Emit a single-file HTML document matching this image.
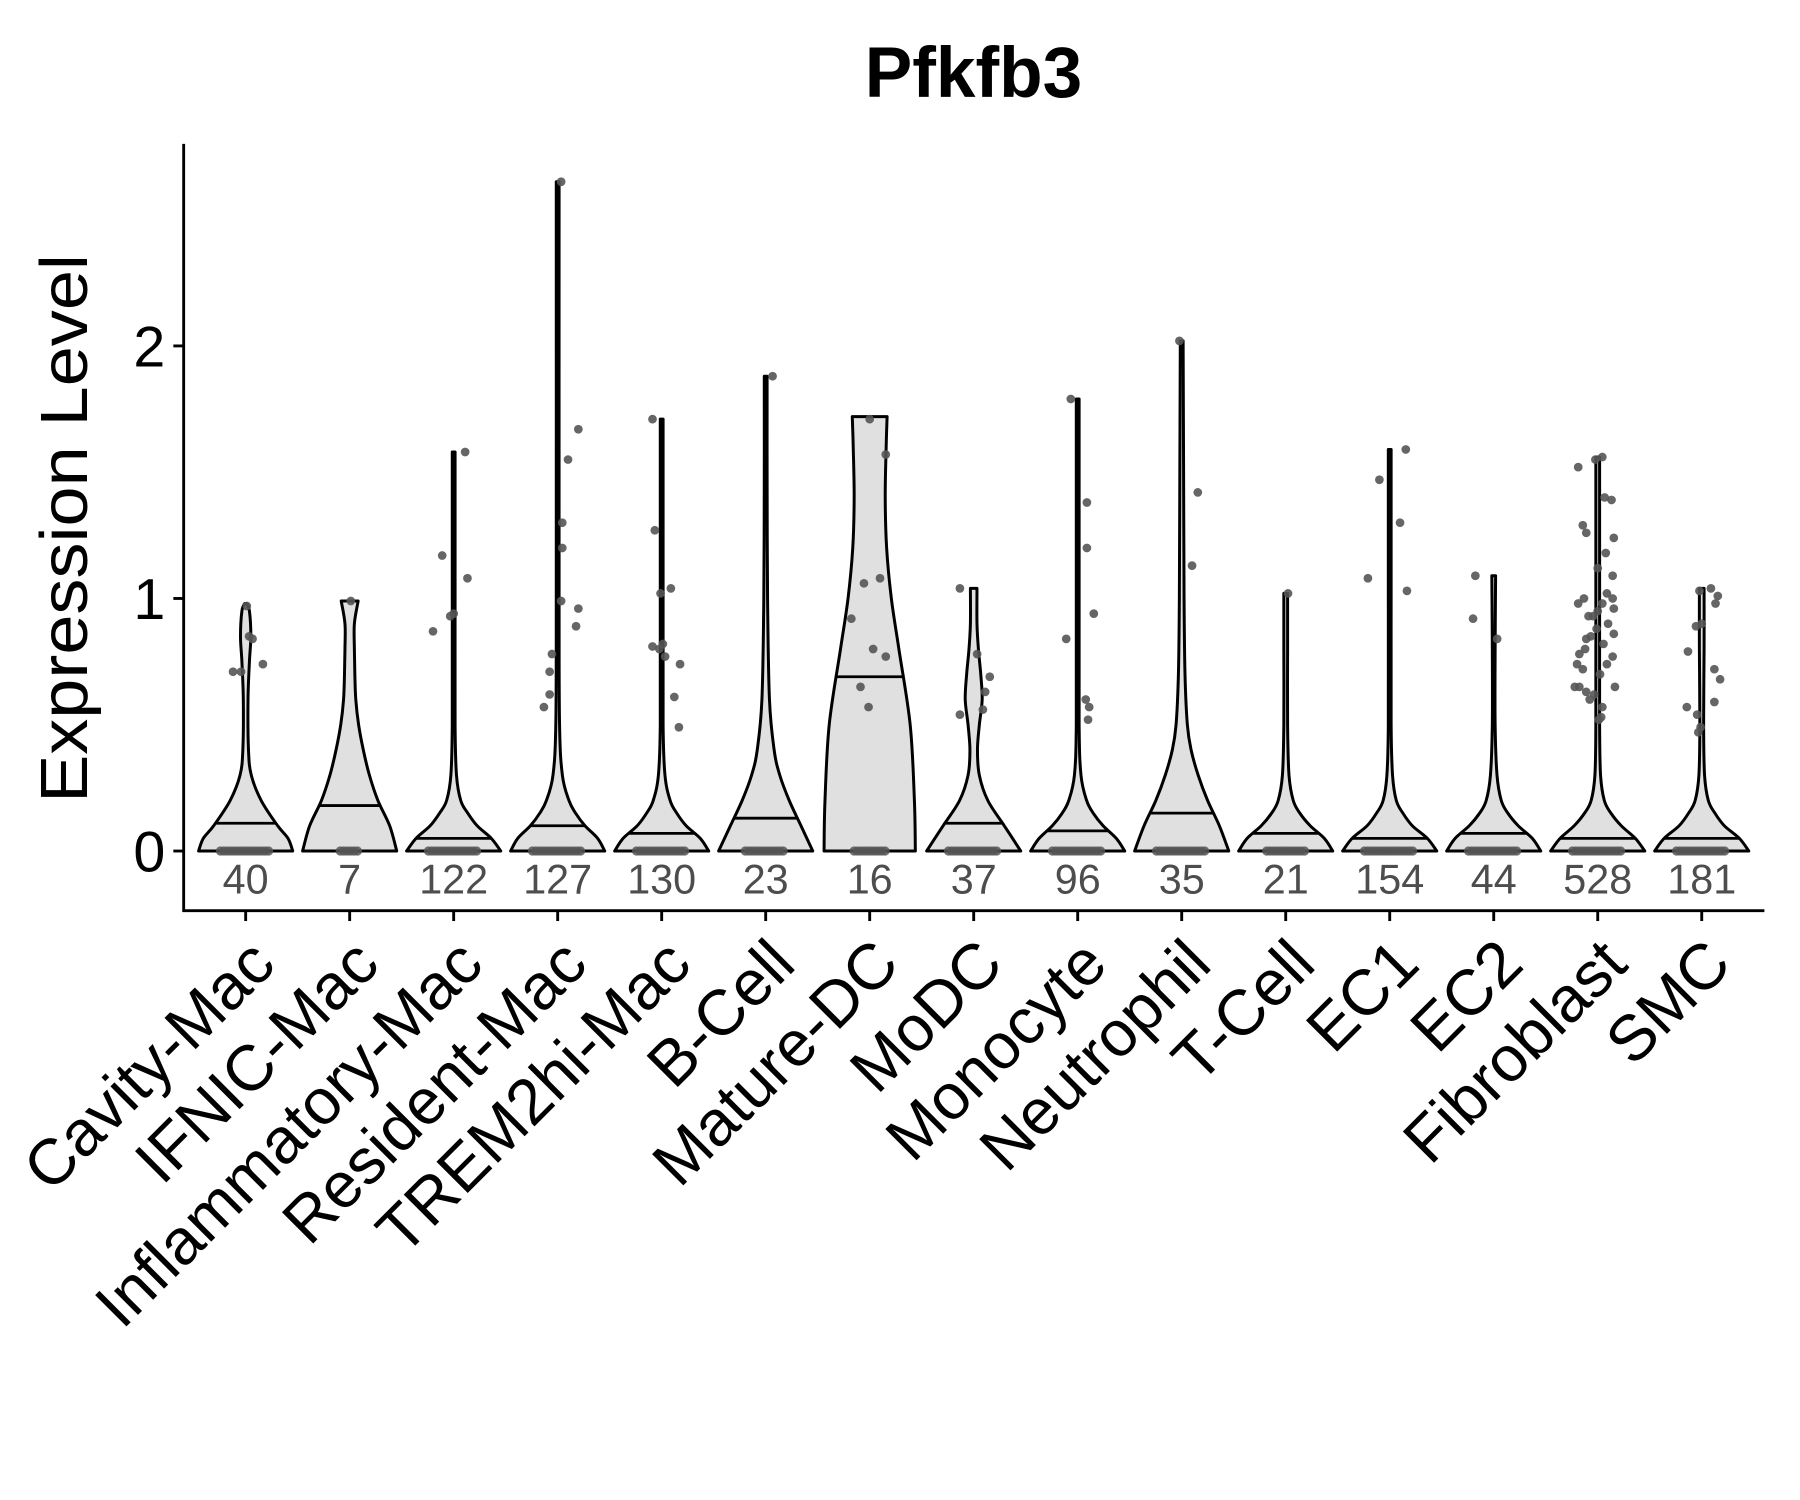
<!DOCTYPE html>
<html><head><meta charset="utf-8"><style>
html,body{margin:0;padding:0;background:#fff;}
svg{display:block;}
</style></head><body>
<svg id="chart" width="1800" height="1500" viewBox="0 0 1568 1306" xmlns="http://www.w3.org/2000/svg" font-family="'Liberation Sans', sans-serif">
<rect width="1568" height="1306" fill="#fff"/>
<text x="848" y="84" text-anchor="middle" font-size="62" font-weight="bold">Pfkfb3</text>
<text transform="translate(76,460) rotate(-90)" text-anchor="middle" font-size="58" textLength="478" lengthAdjust="spacingAndGlyphs">Expression Level</text>
<g id="plot"></g>
</svg>
<script>
const categories = ["Cavity-Mac","IFNIC-Mac","Inflammatory-Mac","Resident-Mac","TREM2hi-Mac","B-Cell","Mature-DC","MoDC","Monocyte","Neutrophil","T-Cell","EC1","EC2","Fibroblast","SMC"];
const counts = [40,7,122,127,130,23,16,37,96,35,21,154,44,528,181];
const medians = [0.11,0.18,0.05,0.10,0.07,0.13,0.69,0.11,0.08,0.15,0.07,0.05,0.07,0.05,0.05];
const yTicks = [0,1,2];
// density profiles: levels (expression) and relative half-widths
const densLevels = [
 [0,0.05,0.1,0.2,0.3,0.4,0.6,0.75,0.85,0.95,0.98],
 [0,0.1,0.2,0.3,0.4,0.5,0.6,0.7,0.8,0.9,0.99],
 [0,0.05,0.1,0.15,0.2,0.3,0.5,1.0,1.58],
 [0,0.05,0.1,0.15,0.2,0.3,0.5,1.0,2.65],
 [0,0.05,0.1,0.15,0.2,0.3,0.5,1.0,1.71],
 [0,0.1,0.2,0.3,0.4,0.6,1.0,1.5,1.88],
 [0,0.2,0.5,0.8,1.0,1.2,1.4,1.6,1.72],
 [0,0.1,0.2,0.3,0.4,0.5,0.6,0.7,0.8,0.9,1.04],
 [0,0.05,0.1,0.15,0.2,0.3,0.5,1.0,1.79],
 [0,0.1,0.2,0.3,0.4,0.5,0.7,1.0,1.5,2.02],
 [0,0.05,0.1,0.15,0.2,0.3,0.5,0.8,1.02],
 [0,0.05,0.1,0.15,0.2,0.3,0.5,1.0,1.59],
 [0,0.05,0.1,0.15,0.2,0.3,0.5,0.8,1.09],
 [0,0.05,0.1,0.15,0.2,0.3,0.5,1.0,1.56],
 [0,0.05,0.1,0.15,0.2,0.3,0.5,0.8,1.04]
];
const densWidths = [
 [1,0.9,0.68,0.33,0.12,0.06,0.05,0.08,0.11,0.08,0.02],
 [1,0.85,0.6,0.42,0.29,0.19,0.13,0.11,0.1,0.1,0.18],
 [1,0.8,0.5,0.3,0.15,0.06,0.03,0.03,0.03],
 [1,0.85,0.58,0.38,0.24,0.1,0.04,0.03,0.03],
 [1,0.82,0.52,0.32,0.18,0.07,0.03,0.03,0.03],
 [1,0.75,0.5,0.3,0.18,0.08,0.04,0.03,0.03],
 [0.97,0.95,0.86,0.62,0.46,0.36,0.33,0.35,0.37],
 [1,0.65,0.3,0.12,0.08,0.12,0.18,0.15,0.1,0.07,0.07],
 [1,0.82,0.54,0.33,0.19,0.07,0.03,0.03,0.03],
 [1,0.8,0.55,0.35,0.2,0.12,0.07,0.05,0.04,0.03],
 [1,0.82,0.52,0.3,0.16,0.07,0.04,0.04,0.04],
 [1,0.8,0.48,0.28,0.14,0.06,0.03,0.03,0.03],
 [1,0.82,0.52,0.3,0.16,0.07,0.03,0.03,0.04],
 [1,0.8,0.5,0.28,0.14,0.06,0.04,0.04,0.04],
 [1,0.8,0.48,0.28,0.14,0.06,0.04,0.05,0.05]
];
// nonzero points: values and jitter offsets
const pointValues = [
 [0.71,0.71,0.85,0.84,0.74,0.97],
 [0.99],
 [0.87,1.17,0.93,0.94,1.08,1.58],
 [0.57,0.62,0.71,0.78,0.99,1.2,1.3,0.96,0.89,1.55,1.67,2.65],
 [1.71,1.27,0.81,0.8,0.82,0.77,1.02,1.04,0.74,0.61,0.49],
 [1.88],
 [1.71,1.57,1.08,1.06,0.92,0.8,0.77,0.65,0.57],
 [1.04,0.54,0.78,0.63,0.69,0.56],
 [1.79,1.38,1.2,0.94,0.84,0.6,0.57,0.52],
 [2.02,1.42,1.13],
 [1.02],
 [1.47,1.59,1.3,1.08,1.03],
 [1.09,0.92,0.84],
 [1.52,1.29,1.26,1.0,0.98,0.93,0.93,0.95,0.85,0.84,0.8,0.78,0.74,0.72,0.65,0.63,0.6,0.65,1.55,1.56,1.4,1.39,1.24,1.18,1.09,1.02,1.0,0.98,0.96,0.9,0.86,0.82,0.77,0.74,0.7,0.65,0.57,0.53,0.52,0.62,1.12,0.88],
 [0.79,0.57,0.54,0.47,0.89,0.9,1.03,1.04,1.01,0.98,0.72,0.68,0.59,0.49]
];
const pointJitter = [
 [-11,-4,3,6,15,1],
 [1],
 [-18,-10,-3,0,12,10],
 [-12,-7,-7,-5,3,4,4,18,16,9,18,3],
 [-8,-6,-8,-2,1,3,-1,8,16,11,15],
 [6],
 [0,14,9,-5,-16,3,14,-8,-1],
 [-12,-12,3,10,14,8],
 [-6,8,8,14,-10,7,10,9],
 [-2,14,9],
 [2],
 [-9,14,9,-19,15],
 [-16,-18,3],
 [-17,-13,-10,-12,-17,-8,-4,0,-6,-10,-11,-16,-18,-13,-16,-10,-7,-20,-2,4,6,12,14,7,13,8,13,4,14,9,14,5,13,8,2,15,4,3,1,-3,0,-1],
 [-12,-13,-4,-3,-5,0,-2,8,14,12,11,16,11,-1]
];

const NS = "http://www.w3.org/2000/svg";
const plot = document.getElementById('plot');
const xL = 160, xR = 1537, yTop = 125, yBot = 793;
const x0 = 214, step = 90.6, halfW = 41;
function xScale(i){ return x0 + i*step; }
function yScale(v){ return 741 - v*220; }
function mk(tag, attrs){ const e=document.createElementNS(NS,tag); for(const k in attrs) e.setAttribute(k,attrs[k]); plot.appendChild(e); return e; }

function smoothPath(pts){
  let d = `M${pts[0][0]},${pts[0][1]}`;
  for(let i=0;i<pts.length-1;i++){
    const p0=pts[Math.max(i-1,0)], p1=pts[i], p2=pts[i+1], p3=pts[Math.min(i+2,pts.length-1)];
    const c1=[p1[0]+(p2[0]-p0[0])/6, p1[1]+(p2[1]-p0[1])/6];
    const c2=[p2[0]-(p3[0]-p1[0])/6, p2[1]-(p3[1]-p1[1])/6];
    d += ` C${c1[0]},${c1[1]} ${c2[0]},${c2[1]} ${p2[0]},${p2[1]}`;
  }
  return d;
}
function widthAt(i, v){
  const L=densLevels[i], W=densWidths[i];
  for(let k=0;k<L.length-1;k++){ if(v>=L[k]&&v<=L[k+1]){ const t=(v-L[k])/(L[k+1]-L[k]); return W[k]+(W[k+1]-W[k])*t; } }
  return W[W.length-1];
}

categories.forEach((c,i)=>{
  const cx = xScale(i);
  const L = densLevels[i], W = densWidths[i];
  const right = L.map((v,k)=>[cx+W[k]*halfW, yScale(v)]);
  const left = L.map((v,k)=>[cx-W[k]*halfW, yScale(v)]).reverse();
  let d = smoothPath(right);
  d += ` L${left[0][0]},${left[0][1]}`;
  d += smoothPath(left).replace(/^M[^C]*/,' ');
  d += ' Z';
  const vp = mk('path',{d:d, fill:'#e0e0e0', stroke:'#000', 'stroke-width':2.6, 'stroke-linejoin':'round'});
  
  
  const mw = widthAt(i, medians[i])*halfW;
  const ml = mk('line',{x1:cx-mw, x2:cx+mw, y1:yScale(medians[i]), y2:yScale(medians[i]), stroke:'#000','stroke-width':2.4});
  
  
  const zspan = Math.min(22, 4 + counts[i]*0.6);
  for(let k=-zspan;k<=zspan;k+=3){
    const z = mk('circle',{cx:cx+k, cy:yScale(0), r:4, fill:'#555', 'fill-opacity':0.85});
    
    
  }
  pointValues[i].forEach((v,k)=>{
    const p = mk('circle',{cx:cx+pointJitter[i][k], cy:yScale(v), r:3.8, fill:'#555', 'fill-opacity':0.9});
    
    
  });
  const t = mk('text',{x:cx, y:778, 'text-anchor':'middle', 'font-size':36, fill:'#4d4d4d'});
  t.textContent = counts[i];
  
  
  const tk = mk('line',{x1:cx,x2:cx,y1:yBot,y2:yBot+9,stroke:'#000','stroke-width':2.5});
  
  
  const xl = mk('text',{transform:`translate(${cx+28},${842}) rotate(-45)`, 'text-anchor':'end', 'font-size':56, fill:'#000'});
  xl.textContent = c;
  
  
});

yTicks.forEach(v=>{
  const tk = mk('line',{x1:xL-9,x2:xL,y1:yScale(v),y2:yScale(v),stroke:'#000','stroke-width':2.5});
  
  
  const t = mk('text',{x:xL-16, y:yScale(v)+18, 'text-anchor':'end', 'font-size':50, fill:'#000'});
  t.textContent = v;
  
  
});
const ya = mk('line',{x1:xL,x2:xL,y1:yTop,y2:yBot+1,stroke:'#000','stroke-width':2.5});


const xa = mk('line',{x1:xL-1,x2:xR,y1:yBot,y2:yBot,stroke:'#000','stroke-width':2.5});


</script>
</body></html>
